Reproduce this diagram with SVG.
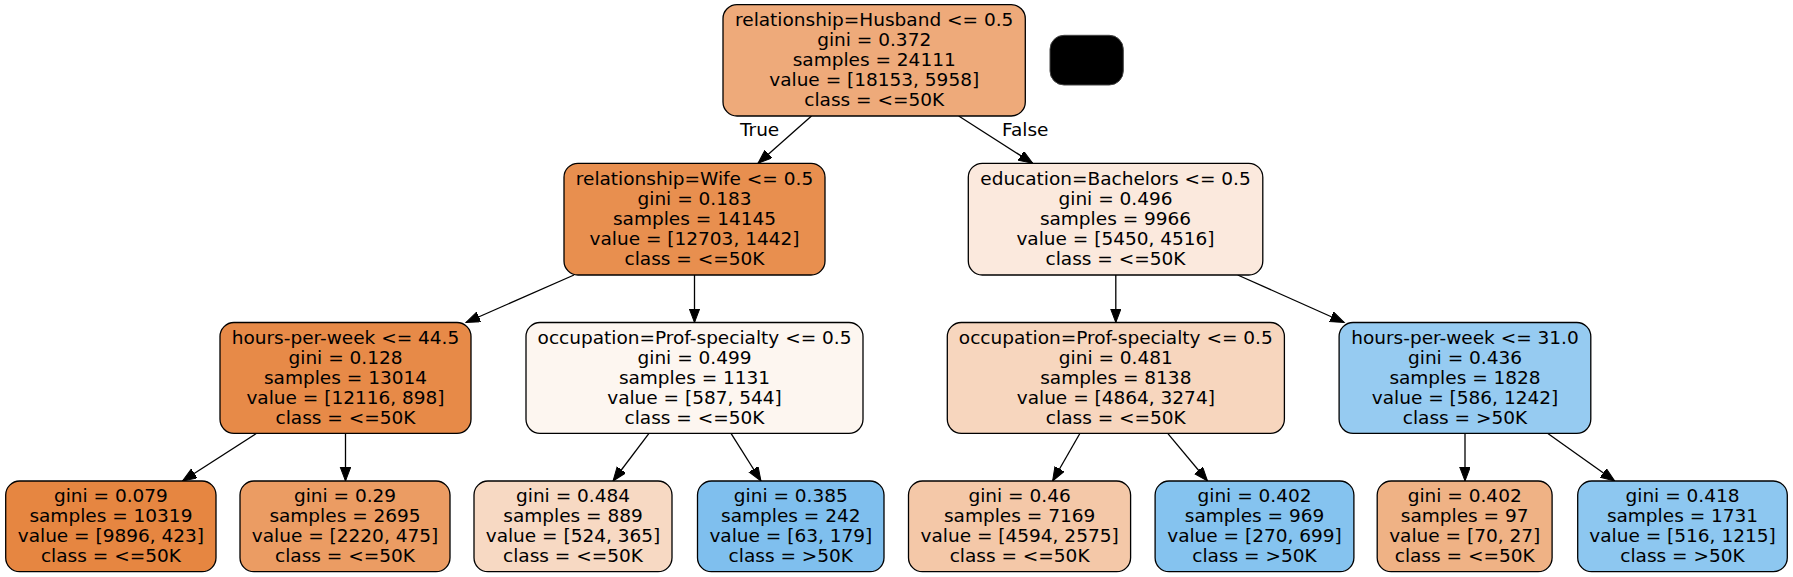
<svg xmlns="http://www.w3.org/2000/svg" width="1793" height="577" viewBox="0 0 1793 577">
<style>
.box{stroke:#000;stroke-width:1.3}
.t{font-family:"DejaVu Sans",sans-serif;font-size:18.5px;fill:#000;text-anchor:middle}
.e{stroke:#000;stroke-width:1.3;fill:none}
</style>
<defs>
<marker id="ah" markerUnits="userSpaceOnUse" markerWidth="16" markerHeight="12" refX="14" refY="5.3" orient="auto">
<path d="M0,0 L14,5.3 L0,10.6 z" fill="#000" stroke="#000" stroke-width="1"/>
</marker>
</defs>
<rect width="1793" height="577" fill="#fff"/>
<g id="connectors">
<line class="e" x1="811.5" y1="116" x2="758" y2="163.3" marker-end="url(#ah)"/>
<line class="e" x1="958.7" y1="116" x2="1032.7" y2="163.3" marker-end="url(#ah)"/>
<line class="e" x1="574" y1="275" x2="466" y2="322.5" marker-end="url(#ah)"/>
<line class="e" x1="694.5" y1="275" x2="694.5" y2="322.5" marker-end="url(#ah)"/>
<line class="e" x1="1115.8" y1="275" x2="1115.8" y2="322.5" marker-end="url(#ah)"/>
<line class="e" x1="1237.7" y1="275" x2="1344.2" y2="322.5" marker-end="url(#ah)"/>
<line class="e" x1="256.6" y1="433.3" x2="182.5" y2="481" marker-end="url(#ah)"/>
<line class="e" x1="345.5" y1="433.3" x2="345.5" y2="481" marker-end="url(#ah)"/>
<line class="e" x1="649" y1="433.3" x2="613" y2="481" marker-end="url(#ah)"/>
<line class="e" x1="731" y1="433.3" x2="761" y2="481" marker-end="url(#ah)"/>
<line class="e" x1="1080" y1="433.3" x2="1052.6" y2="481" marker-end="url(#ah)"/>
<line class="e" x1="1167.7" y1="433.3" x2="1207.5" y2="481" marker-end="url(#ah)"/>
<line class="e" x1="1465" y1="433.3" x2="1465" y2="481" marker-end="url(#ah)"/>
<line class="e" x1="1547.5" y1="433.3" x2="1614.7" y2="481" marker-end="url(#ah)"/>
<text class="t" x="759.6" y="136">True</text>
<text class="t" x="1025.3" y="136">False</text>
</g>
<g id="n0">
<rect class="box" x="723" y="4.7" width="302.3" height="111.3" rx="14" fill="#eeaa7a"/>
<text class="t"><tspan x="874.2" y="26">relationship=Husband &lt;= 0.5</tspan><tspan x="874.2" y="46">gini = 0.372</tspan><tspan x="874.2" y="66">samples = 24111</tspan><tspan x="874.2" y="86">value = [18153, 5958]</tspan><tspan x="874.2" y="106">class = &lt;=50K</tspan></text>
</g>
<g id="black">
<rect x="1050" y="35.3" width="73.3" height="49.7" rx="14" fill="#000" stroke="#444" stroke-width="1"/>
</g>
<g id="n1">
<rect class="box" x="564" y="163.3" width="261" height="111.7" rx="14" fill="#e88f4f"/>
<text class="t"><tspan x="694.5" y="184.6">relationship=Wife &lt;= 0.5</tspan><tspan x="694.5" y="204.6">gini = 0.183</tspan><tspan x="694.5" y="224.6">samples = 14145</tspan><tspan x="694.5" y="244.6">value = [12703, 1442]</tspan><tspan x="694.5" y="264.6">class = &lt;=50K</tspan></text>
</g>
<g id="n8">
<rect class="box" x="968.3" y="163.3" width="294.5" height="111.7" rx="14" fill="#fbe9dd"/>
<text class="t"><tspan x="1115.5" y="184.6">education=Bachelors &lt;= 0.5</tspan><tspan x="1115.5" y="204.6">gini = 0.496</tspan><tspan x="1115.5" y="224.6">samples = 9966</tspan><tspan x="1115.5" y="244.6">value = [5450, 4516]</tspan><tspan x="1115.5" y="264.6">class = &lt;=50K</tspan></text>
</g>
<g id="n2">
<rect class="box" x="220" y="322.5" width="251" height="110.8" rx="14" fill="#e78a48"/>
<text class="t"><tspan x="345.5" y="343.8">hours-per-week &lt;= 44.5</tspan><tspan x="345.5" y="363.8">gini = 0.128</tspan><tspan x="345.5" y="383.8">samples = 13014</tspan><tspan x="345.5" y="403.8">value = [12116, 898]</tspan><tspan x="345.5" y="423.8">class = &lt;=50K</tspan></text>
</g>
<g id="n5">
<rect class="box" x="526" y="322.5" width="337" height="110.8" rx="14" fill="#fdf6f0"/>
<text class="t"><tspan x="694.5" y="343.8">occupation=Prof-specialty &lt;= 0.5</tspan><tspan x="694.5" y="363.8">gini = 0.499</tspan><tspan x="694.5" y="383.8">samples = 1131</tspan><tspan x="694.5" y="403.8">value = [587, 544]</tspan><tspan x="694.5" y="423.8">class = &lt;=50K</tspan></text>
</g>
<g id="n9">
<rect class="box" x="947.3" y="322.5" width="337.1" height="110.8" rx="14" fill="#f7d6be"/>
<text class="t"><tspan x="1115.8" y="343.8">occupation=Prof-specialty &lt;= 0.5</tspan><tspan x="1115.8" y="363.8">gini = 0.481</tspan><tspan x="1115.8" y="383.8">samples = 8138</tspan><tspan x="1115.8" y="403.8">value = [4864, 3274]</tspan><tspan x="1115.8" y="423.8">class = &lt;=50K</tspan></text>
</g>
<g id="n12">
<rect class="box" x="1339.1" y="322.5" width="251.7" height="110.8" rx="14" fill="#96cbf1"/>
<text class="t"><tspan x="1465" y="343.8">hours-per-week &lt;= 31.0</tspan><tspan x="1465" y="363.8">gini = 0.436</tspan><tspan x="1465" y="383.8">samples = 1828</tspan><tspan x="1465" y="403.8">value = [586, 1242]</tspan><tspan x="1465" y="423.8">class = &gt;50K</tspan></text>
</g>
<g id="n3">
<rect class="box" x="5.7" y="481" width="210.3" height="90.7" rx="14" fill="#e68641"/>
<text class="t"><tspan x="110.9" y="502.3">gini = 0.079</tspan><tspan x="110.9" y="522.3">samples = 10319</tspan><tspan x="110.9" y="542.3">value = [9896, 423]</tspan><tspan x="110.9" y="562.3">class = &lt;=50K</tspan></text>
</g>
<g id="n4">
<rect class="box" x="240" y="481" width="210" height="90.7" rx="14" fill="#eb9c63"/>
<text class="t"><tspan x="345" y="502.3">gini = 0.29</tspan><tspan x="345" y="522.3">samples = 2695</tspan><tspan x="345" y="542.3">value = [2220, 475]</tspan><tspan x="345" y="562.3">class = &lt;=50K</tspan></text>
</g>
<g id="n6">
<rect class="box" x="474" y="481" width="198" height="90.7" rx="14" fill="#f7d9c3"/>
<text class="t"><tspan x="573" y="502.3">gini = 0.484</tspan><tspan x="573" y="522.3">samples = 889</tspan><tspan x="573" y="542.3">value = [524, 365]</tspan><tspan x="573" y="562.3">class = &lt;=50K</tspan></text>
</g>
<g id="n7">
<rect class="box" x="697.5" y="481" width="186.5" height="90.7" rx="14" fill="#7fbfee"/>
<text class="t"><tspan x="790.8" y="502.3">gini = 0.385</tspan><tspan x="790.8" y="522.3">samples = 242</tspan><tspan x="790.8" y="542.3">value = [63, 179]</tspan><tspan x="790.8" y="562.3">class = &gt;50K</tspan></text>
</g>
<g id="n10">
<rect class="box" x="908.5" y="481" width="222.1" height="90.7" rx="14" fill="#f4c8a8"/>
<text class="t"><tspan x="1019.6" y="502.3">gini = 0.46</tspan><tspan x="1019.6" y="522.3">samples = 7169</tspan><tspan x="1019.6" y="542.3">value = [4594, 2575]</tspan><tspan x="1019.6" y="562.3">class = &lt;=50K</tspan></text>
</g>
<g id="n11">
<rect class="box" x="1155.1" y="481" width="198.8" height="90.7" rx="14" fill="#85c3ef"/>
<text class="t"><tspan x="1254.5" y="502.3">gini = 0.402</tspan><tspan x="1254.5" y="522.3">samples = 969</tspan><tspan x="1254.5" y="542.3">value = [270, 699]</tspan><tspan x="1254.5" y="562.3">class = &gt;50K</tspan></text>
</g>
<g id="n13">
<rect class="box" x="1377.2" y="481" width="174.9" height="90.7" rx="14" fill="#efb285"/>
<text class="t"><tspan x="1464.7" y="502.3">gini = 0.402</tspan><tspan x="1464.7" y="522.3">samples = 97</tspan><tspan x="1464.7" y="542.3">value = [70, 27]</tspan><tspan x="1464.7" y="562.3">class = &lt;=50K</tspan></text>
</g>
<g id="n14">
<rect class="box" x="1577.7" y="481" width="209.6" height="90.7" rx="14" fill="#8dc7f0"/>
<text class="t"><tspan x="1682.5" y="502.3">gini = 0.418</tspan><tspan x="1682.5" y="522.3">samples = 1731</tspan><tspan x="1682.5" y="542.3">value = [516, 1215]</tspan><tspan x="1682.5" y="562.3">class = &gt;50K</tspan></text>
</g>
</svg>
